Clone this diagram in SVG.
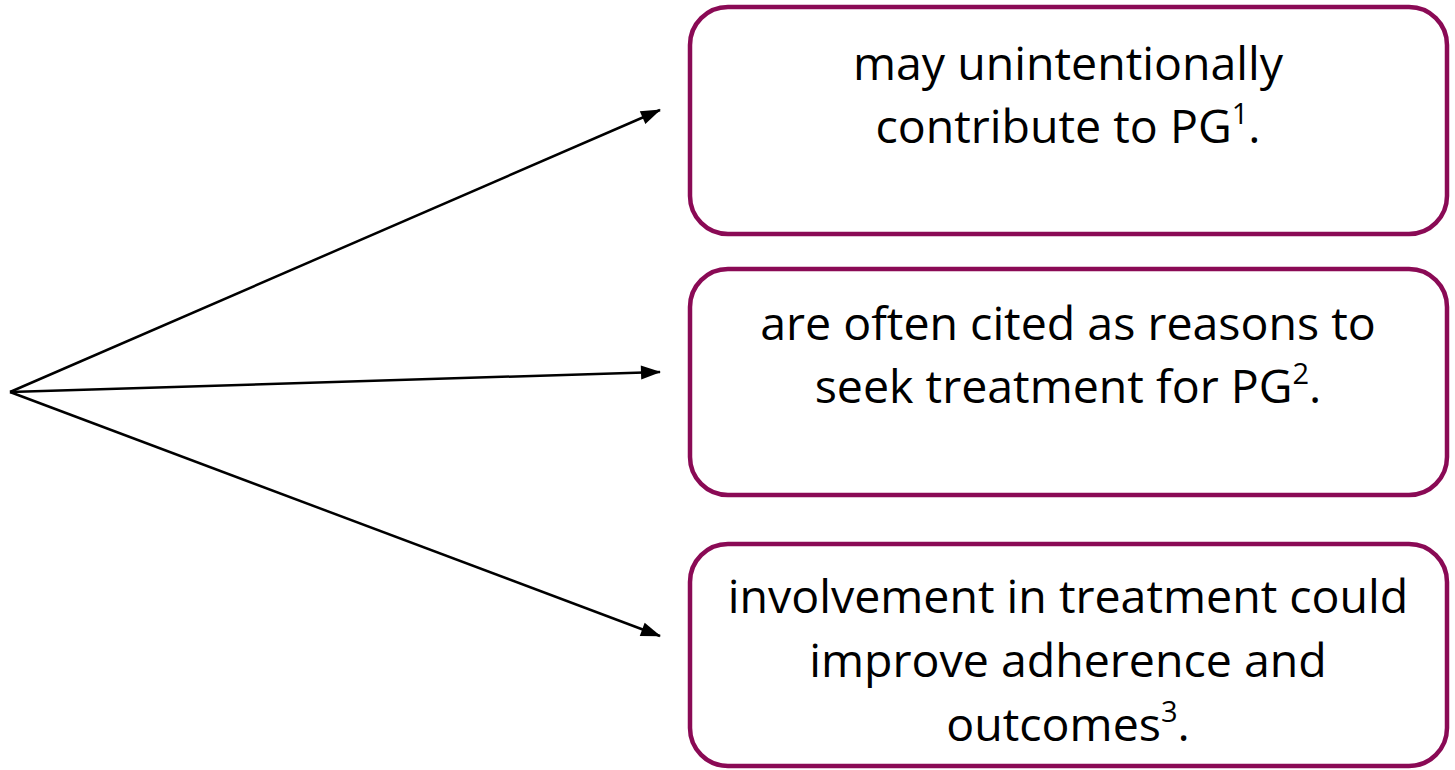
<svg xmlns="http://www.w3.org/2000/svg" width="1455" height="770" viewBox="0 0 1455 770">
<style>
.box{fill:#fff;stroke:#8a0a55;stroke-width:4.5}
.t{font-family:"Open Sans","Liberation Sans",Arial,sans-serif;font-size:46.5px;fill:#000;text-anchor:middle}
.s{font-size:29px}
.c{stroke:#000;stroke-width:2.5;fill:none;marker-end:url(#ah)}
</style>
<defs>
<marker id="ah" markerUnits="userSpaceOnUse" markerWidth="20" markerHeight="14" refX="19" refY="7" orient="auto" style="overflow:visible">
<path d="M0,0 L20,7 L0,14 z" fill="#000"/>
</marker>
</defs>
<rect width="1455" height="770" fill="#fff"/>
<g id="connectors">
<line class="c" x1="10" y1="392" x2="660" y2="110"/>
<line class="c" x1="10" y1="392" x2="660" y2="372"/>
<line class="c" x1="10" y1="392" x2="660" y2="636"/>
</g>
<g id="node1">
<rect class="box" x="690" y="7" width="757" height="227" rx="38"/>
<text class="t" x="1068" y="80">may unintentionally</text>
<text class="t" x="1068" y="143">contribute to PG<tspan class="s" dy="-19">1</tspan><tspan dy="19">.</tspan></text>
</g>
<g id="node2">
<rect class="box" x="690" y="269" width="757" height="226" rx="38"/>
<text class="t" x="1068" y="340">are often cited as reasons to</text>
<text class="t" x="1068" y="403">seek treatment for PG<tspan class="s" dy="-19">2</tspan><tspan dy="19">.</tspan></text>
</g>
<g id="node3">
<rect class="box" x="690" y="544" width="757" height="222" rx="38"/>
<text class="t" x="1068" y="613">involvement in treatment could</text>
<text class="t" x="1068" y="677">improve adherence and</text>
<text class="t" x="1068" y="741">outcomes<tspan class="s" dy="-19">3</tspan><tspan dy="19">.</tspan></text>
</g>
</svg>
